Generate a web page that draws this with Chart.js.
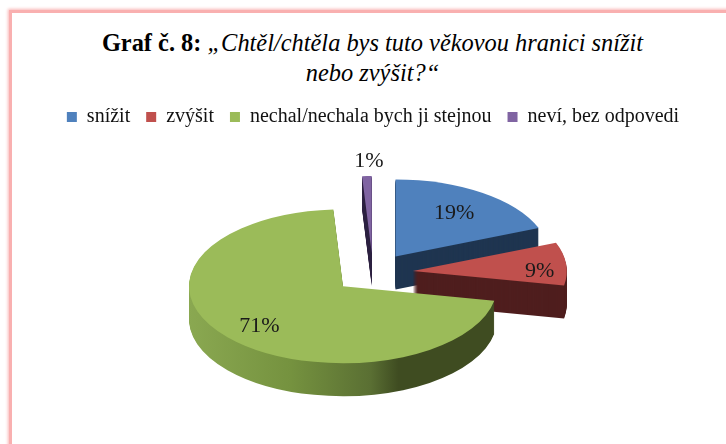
<!DOCTYPE html>
<html lang="cs">
<head>
<meta charset="utf-8">
<style>
html,body{margin:0;padding:0;background:#fff;width:726px;height:444px;overflow:hidden}
#frame{position:absolute;left:9px;top:10px;width:760px;height:500px;border-left:3px solid #f9b0b0;border-top:3px solid #f9b0b0;box-shadow:-1px -1px 3px #f9b5b5}
#title{position:absolute;left:0;top:28px;width:745px;text-align:center;font-family:"Liberation Serif",serif;font-size:24.4px;line-height:30px;color:#000}
#chart{position:absolute;left:0;top:0}
</style>
<script src="https://cdn.jsdelivr.net/npm/chart.js@4"></script>
</head>
<body>
<div id="frame"></div>
<div id="title"><b>Graf č. 8:</b> <i>„Chtěl/chtěla bys tuto věkovou hranici snížit<br>nebo zvýšit?“</i></div>
<canvas id="chart" width="726" height="444"></canvas>
<script>
const categories = ["snížit", "zvýšit", "nechal/nechala bych ji stejnou", "neví, bez odpovedi"];
const values = [19, 9, 71, 1];
const topColors = ["#4f81bd", "#c0504d", "#9bbb59", "#8064a2"];
const sideColors = ["#1f3550", "#4f1e1e", null, "#2e2140"];
const greenSideStops = [[0, "#8aa851"], [0.33, "#75923f"], [0.59, "#5a6f33"], [0.68, "#3f4c21"], [1, "#3f4c21"]];
const drawOrder = [3, 0, 1, 2];
const labelReach = [0.70, 0.82, 0.75, 1.19];
const labelNudgeX = [-2, 1, 3, 3];
const labelNudgeY = [1, 6, 2, 0];
const radius = 154, squash = 0.5, explode = 40, depth = 33;
const serif = '"Liberation Serif", serif';

const pie3d = {
  id: "pie3d",
  beforeDatasetsDraw(chart) {
    const ctx = chart.ctx;
    const arcs = chart.getDatasetMeta(0).data;
    const place = (arc, dy) => {
      const mid = (arc.startAngle + arc.endAngle) / 2;
      ctx.translate(arc.x, arc.y + dy);
      ctx.scale(1, squash);
      ctx.translate(explode * Math.cos(mid), explode * Math.sin(mid));
      ctx.translate(-arc.x, -arc.y);
    };
    drawOrder.forEach(i => {
      const arc = arcs[i];
      let side = sideColors[i];
      if (!side) {
        side = ctx.createLinearGradient(arc.x - radius, 0, arc.x + radius, 0);
        greenSideStops.forEach(s => side.addColorStop(s[0], s[1]));
      }
      const wall = Object.create(arc);
      wall.options = Object.assign({}, arc.options, { backgroundColor: side });
      for (let dy = depth; dy >= 1; dy--) {
        ctx.save(); place(arc, dy); wall.draw(ctx); ctx.restore();
      }
      ctx.save(); place(arc, 0); arc.draw(ctx); ctx.restore();
    });
    ctx.save();
    ctx.font = "22px " + serif;
    ctx.fillStyle = "#1a1a1a";
    ctx.textAlign = "center";
    ctx.textBaseline = "middle";
    const total = values.reduce((a, b) => a + b, 0);
    arcs.forEach((arc, i) => {
      const mid = (arc.startAngle + arc.endAngle) / 2;
      const r = explode + radius * labelReach[i];
      const x = arc.x + r * Math.cos(mid) + labelNudgeX[i];
      const y = arc.y + r * Math.sin(mid) * squash + labelNudgeY[i];
      ctx.fillText(Math.round(values[i] / total * 100) + "%", x, y);
    });
    ctx.restore();
    return false;
  }
};

new Chart(document.getElementById("chart"), {
  type: "pie",
  data: {
    labels: categories,
    datasets: [{ data: values, backgroundColor: topColors, borderWidth: 0, radius: radius }]
  },
  plugins: [pie3d],
  options: {
    responsive: false,
    animation: false,
    layout: { padding: { left: 20, right: 0, top: 91, bottom: 35 } },
    plugins: {
      title: { display: false },
      tooltip: { enabled: false },
      legend: {
        position: "top",
        labels: {
          boxWidth: 10, boxHeight: 10, padding: 16,
          color: "#111",
          font: { family: serif, size: 20 }
        }
      }
    }
  }
});
</script>
</body>
</html>
